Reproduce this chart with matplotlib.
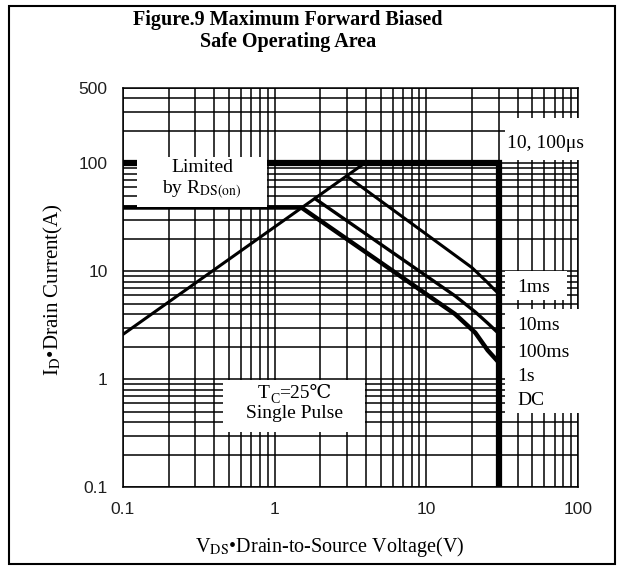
import matplotlib
matplotlib.use('Agg')
import numpy as np
import matplotlib.pyplot as plt
from matplotlib.patches import Rectangle
from matplotlib.ticker import FixedLocator, LogLocator, NullFormatter

plt.rcParams['mathtext.fontset'] = 'stix'
SERIF = ['Liberation Serif', 'DejaVu Serif']

# Tick values / labels
x_ticks = [0.1, 1, 10, 100]
x_tick_labels = ['0.1', '1', '10', '100']
y_ticks = [0.1, 1, 10, 100, 500]
y_tick_labels = ['0.1', '1', '10', '100', '500']

# SOA boundaries (V, A)
rds_v = [0.1, 3.9]
rds_i = [2.6, 100]
limit_v = [0.1, 30, 30]
limit_i = [100, 100, 0.1]
ms1_v = [3.0, 20, 25, 28, 30]
ms1_i = [76, 10.8, 8.0, 6.8, 6.2]
ms10_v = [1.85, 15.5, 21, 25.4, 30]
ms10_i = [47, 5.9, 4.2, 3.3, 2.65]
dc_v = [0.1, 1.5, 15.5, 21, 25.4, 30]
dc_i = [39, 39, 4.0, 2.7, 1.85, 1.43]

pulse_labels = ['1ms', '10ms', '100ms', '1s', 'DC']

fig = plt.figure(figsize=(6.24, 5.67), dpi=100)
ax = fig.add_axes([123 / 624, 1 - 487 / 567, 455 / 624, 399 / 567])
ax.set_xscale('log')
ax.set_yscale('log')
ax.set_xlim(0.1, 100)
ax.set_ylim(0.1, 500)

ax.xaxis.set_major_locator(FixedLocator(x_ticks))
ax.set_xticklabels(x_tick_labels)
ax.yaxis.set_major_locator(FixedLocator(y_ticks))
ax.set_yticklabels(y_tick_labels)
ax.xaxis.set_minor_locator(LogLocator(base=10, subs=np.arange(2, 10)))
ax.yaxis.set_minor_locator(LogLocator(base=10, subs=np.arange(2, 10)))
ax.xaxis.set_minor_formatter(NullFormatter())
ax.yaxis.set_minor_formatter(NullFormatter())
ax.tick_params(which='both', length=0)
ax.tick_params(axis='both', pad=11, labelsize=12.5, labelcolor='#1f1f1f')
for lab in ax.get_xticklabels() + ax.get_yticklabels():
    lab.set_family(['Liberation Sans', 'DejaVu Sans'])
ax.grid(which='both', color='black', linewidth=1.1)
for s in ax.spines.values():
    s.set_linewidth(1.1)

# curves
ax.plot(rds_v, rds_i, color='black', lw=2.2, zorder=2)
ax.plot(ms1_v, ms1_i, color='black', lw=2.2, zorder=2)
ax.plot(ms10_v, ms10_i, color='black', lw=2.4, zorder=2)
ax.plot(dc_v, dc_i, color='black', lw=3.2, zorder=2)
ax.plot(limit_v, limit_i, color='black', lw=4.5, zorder=2,
        solid_joinstyle='miter', solid_capstyle='round')

# white label boxes
boxes = [
    (0.031, 0.702, 0.285, 0.125),
    (0.840, 0.820, 0.180, 0.105),
    (0.840, 0.469, 0.136, 0.072),
    (0.840, 0.185, 0.169, 0.261),
    (0.220, 0.138, 0.312, 0.130),
]
for x0, y0, w, h in boxes:
    ax.add_patch(Rectangle((x0, y0), w, h, transform=ax.transAxes,
                           facecolor='white', edgecolor='none',
                           zorder=3, clip_on=False))

ax.text(0.174, 0.769, 'Limited\nby R$_{\\mathrm{DS(on)}}$', transform=ax.transAxes,
        ha='center', va='center', fontsize=14, family=SERIF, zorder=4)
ax.text(0.844, 0.862, '10, 100μs', transform=ax.transAxes,
        ha='left', va='center', fontsize=14, family=SERIF, zorder=4)
for lab, yy in zip(pulse_labels, [0.501, 0.406, 0.338, 0.276, 0.218]):
    ax.text(0.866, yy, lab, transform=ax.transAxes, ha='left', va='center',
            fontsize=14, family=SERIF, zorder=4)

# T_C=25℃ built from pieces (℃ needs a font fallback)
tc_y = 0.222
t_T = ax.text(0.297, tc_y, 'T', transform=ax.transAxes, ha='left', va='baseline',
              fontsize=14, family=SERIF, zorder=4)
t_C = ax.annotate('C', xy=(1, tc_y), xycoords=(t_T, ax.transAxes),
                  xytext=(0, -3.5), textcoords='offset points',
                  ha='left', va='baseline', fontsize=10, family=SERIF, zorder=4)
ax.annotate('=25℃', xy=(1, tc_y), xycoords=(t_C, ax.transAxes),
            ha='left', va='baseline', fontsize=14, family=SERIF, zorder=4)
ax.text(0.378, 0.172, 'Single Pulse', transform=ax.transAxes,
        ha='center', va='baseline', fontsize=14, family=SERIF, zorder=4)

fig.text(288 / 624, 1 - 31 / 567, 'Figure.9 Maximum Forward Biased\nSafe Operating Area',
         ha='center', va='center', fontsize=14.5, fontweight='bold', family=SERIF)
fig.text(330 / 624, 1 - 547 / 567, 'V$_{\\mathrm{DS}}$•Drain-to-Source Voltage(V)',
         ha='center', va='center', fontsize=14.5, family=SERIF)
fig.text(53 / 624, 1 - 290 / 567, 'I$_{\\mathrm{D}}$•Drain Current(A)', rotation=90,
         ha='center', va='center', fontsize=15, family=SERIF)

# outer frame
fig.add_artist(Rectangle((9 / 624, 1 - 564 / 567), 606 / 624, 558 / 567,
                         transform=fig.transFigure, fill=False,
                         edgecolor='black', linewidth=1.5))

fig.savefig('out.png', dpi=100)
